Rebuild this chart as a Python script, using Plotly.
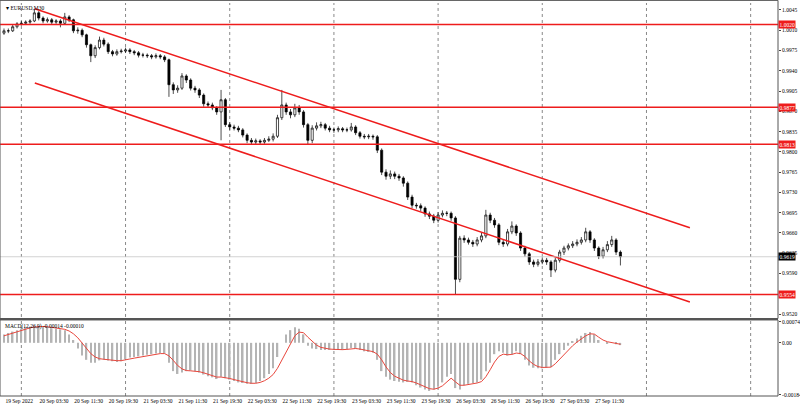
import plotly.graph_objects as go

# EURUSD M30 chart, one candle per hour
close = [
    1.0009, 1.0009, 1.0016, 1.0021, 1.0022, 1.0024, 1.0026, 1.0040, 1.0031, 1.0026,
    1.0028, 1.0024, 1.0026, 1.0022, 1.0033, 1.0028, 1.0009, 1.0010, 1.0002, 0.9985,
    0.9966, 0.9980, 0.9993, 0.9986, 0.9973, 0.9969, 0.9973, 0.9974, 0.9976, 0.9973,
    0.9971, 0.9967, 0.9967, 0.9966, 0.9964, 0.9966, 0.9964, 0.9959, 0.9916, 0.9907,
    0.9910, 0.9931, 0.9924, 0.9910, 0.9907, 0.9898, 0.9883, 0.9881, 0.9876, 0.9869,
    0.9890, 0.9847, 0.9843, 0.9841, 0.9838, 0.9829, 0.9820, 0.9817, 0.9819, 0.9817,
    0.9820, 0.9822, 0.9827, 0.9859, 0.9881, 0.9869, 0.9864, 0.9876, 0.9869, 0.9847,
    0.9820, 0.9841, 0.9845, 0.9847, 0.9841, 0.9838, 0.9838, 0.9840, 0.9838, 0.9838,
    0.9843, 0.9833, 0.9827, 0.9826, 0.9827, 0.9826, 0.9803, 0.9765, 0.9758, 0.9762,
    0.9758, 0.9755, 0.9746, 0.9722, 0.9708, 0.9707, 0.9703, 0.9693, 0.9689, 0.9682,
    0.9691, 0.9694, 0.9694, 0.9686, 0.9580, 0.9651, 0.9648, 0.9644, 0.9641, 0.9648,
    0.9655, 0.9691, 0.9682, 0.9674, 0.9644, 0.9641, 0.9662, 0.9672, 0.9660, 0.9634,
    0.9624, 0.9610, 0.9606, 0.9610, 0.9613, 0.9610, 0.9596, 0.9613, 0.9627, 0.9634,
    0.9638, 0.9641, 0.9644, 0.9648, 0.9662, 0.9648, 0.9634, 0.9620, 0.9631, 0.9640,
    0.9648, 0.9627, 0.9619,
]
high = [
    1.0013, 1.0013, 1.0019, 1.0024, 1.0026, 1.0027, 1.0029, 1.0047, 1.0043, 1.0034,
    1.0032, 1.0031, 1.0029, 1.0029, 1.0040, 1.0036, 1.0030, 1.0015, 1.0013, 1.0004,
    0.9987, 0.9984, 0.9999, 0.9997, 0.9989, 0.9976, 0.9977, 0.9978, 0.9980, 0.9979,
    0.9976, 0.9974, 0.9971, 0.9970, 0.9969, 0.9970, 0.9969, 0.9967, 0.9961, 0.9920,
    0.9915, 0.9936, 0.9934, 0.9927, 0.9914, 0.9910, 0.9901, 0.9887, 0.9885, 0.9879,
    0.9907, 0.9893, 0.9851, 0.9847, 0.9845, 0.9841, 0.9832, 0.9824, 0.9823, 0.9822,
    0.9824, 0.9827, 0.9832, 0.9864, 0.9907, 0.9885, 0.9874, 0.9883, 0.9881, 0.9872,
    0.9850, 0.9846, 0.9851, 0.9852, 0.9850, 0.9845, 0.9842, 0.9844, 0.9843, 0.9842,
    0.9850, 0.9846, 0.9836, 0.9831, 0.9831, 0.9830, 0.9829, 0.9806, 0.9770, 0.9768,
    0.9766, 0.9762, 0.9758, 0.9749, 0.9726, 0.9712, 0.9711, 0.9706, 0.9697, 0.9693,
    0.9696, 0.9699, 0.9698, 0.9697, 0.9689, 0.9655, 0.9656, 0.9652, 0.9648, 0.9653,
    0.9660, 0.9700, 0.9695, 0.9686, 0.9677, 0.9648, 0.9667, 0.9680, 0.9675, 0.9663,
    0.9638, 0.9627, 0.9614, 0.9615, 0.9618, 0.9617, 0.9613, 0.9617, 0.9631, 0.9638,
    0.9642, 0.9646, 0.9649, 0.9653, 0.9669, 0.9665, 0.9651, 0.9637, 0.9636, 0.9646,
    0.9655, 0.9651, 0.9630,
]
low = [
    1.0002, 1.0005, 1.0007, 1.0013, 1.0018, 1.0019, 1.0021, 1.0024, 1.0027, 1.0022,
    1.0023, 1.0020, 1.0021, 1.0015, 1.0020, 1.0024, 1.0005, 1.0004, 0.9998, 0.9980,
    0.9955, 0.9962, 0.9977, 0.9982, 0.9969, 0.9965, 0.9966, 0.9970, 0.9971, 0.9969,
    0.9967, 0.9963, 0.9963, 0.9962, 0.9960, 0.9961, 0.9960, 0.9955, 0.9895, 0.9900,
    0.9902, 0.9907, 0.9919, 0.9906, 0.9902, 0.9893, 0.9878, 0.9876, 0.9872, 0.9864,
    0.9820, 0.9843, 0.9838, 0.9837, 0.9834, 0.9825, 0.9815, 0.9813, 0.9813, 0.9813,
    0.9814, 0.9817, 0.9818, 0.9824, 0.9855, 0.9864, 0.9858, 0.9860, 0.9864, 0.9842,
    0.9812, 0.9815, 0.9837, 0.9841, 0.9837, 0.9834, 0.9833, 0.9834, 0.9834, 0.9834,
    0.9835, 0.9829, 0.9823, 0.9822, 0.9822, 0.9821, 0.9798, 0.9760, 0.9752, 0.9753,
    0.9753, 0.9750, 0.9740, 0.9717, 0.9703, 0.9702, 0.9698, 0.9688, 0.9684, 0.9677,
    0.9678, 0.9687, 0.9689, 0.9681, 0.9554, 0.9575, 0.9643, 0.9640, 0.9636, 0.9637,
    0.9644, 0.9651, 0.9677, 0.9669, 0.9639, 0.9636, 0.9637, 0.9658, 0.9655, 0.9629,
    0.9619, 0.9605, 0.9601, 0.9602, 0.9606, 0.9605, 0.9584, 0.9592, 0.9609, 0.9622,
    0.9630, 0.9634, 0.9637, 0.9640, 0.9644, 0.9643, 0.9629, 0.9615, 0.9616, 0.9627,
    0.9636, 0.9622, 0.9604,
]
first_open = 1.0005

# MACD main (histogram) and signal, in units of 0.00001
macd_main = [
    30, 35, 40, 45, 50, 55, 58, 60, 60, 58, 55, 52, 50, 48, 45, 30, 10, -20, -45, -60,
    -70, -70, -62, -60, -62, -65, -68, -65, -58, -52, -50, -48, -45, -42, -40, -38, -36, -38, -70, -100,
    -110, -105, -100, -98, -100, -105, -112, -118, -122, -128, -120, -125, -130, -135, -140, -142, -145, -145, -142, -135,
    -125, -110, -90, -50, 0, 30, 45, 55, 50, 30, -10, -20, -22, -25, -25, -25, -25, -25, -25, -22,
    -18, -20, -25, -30, -32, -35, -60, -100, -120, -130, -135, -138, -140, -138, -140, -150, -158, -165, -170, -165,
    -155, -140, -120, -110, -160, -165, -150, -145, -142, -140, -130, -100, -70, -40, -30, -35, -45, -40, -30, -40,
    -60, -80, -88, -90, -90, -88, -85, -60, -40, -25, -10, 5, 15, 25, 35, 38, 30, 10, 0, -2,
    0, -5, -8,
]
macd_signal = [
    25, 30, 35, 40, 45, 50, 53, 56, 58, 58, 57, 55, 53, 51, 48, 42, 32, 18, 0, -20,
    -38, -50, -56, -58, -60, -62, -63, -63, -61, -57, -54, -51, -48, -45, -42, -40, -38, -38, -46, -62,
    -80, -92, -98, -99, -100, -102, -106, -111, -116, -121, -121, -123, -126, -130, -134, -138, -141, -143, -143, -140,
    -134, -125, -112, -90, -60, -30, 0, 25, 38, 36, 20, 5, -8, -16, -20, -22, -23, -24, -24, -23,
    -21, -20, -22, -25, -28, -31, -40, -60, -85, -105, -118, -126, -132, -135, -137, -142, -148, -155, -162, -164,
    -160, -152, -138, -125, -138, -150, -150, -148, -145, -142, -137, -120, -95, -68, -48, -40, -42, -41, -36, -38,
    -48, -64, -76, -84, -87, -87, -86, -74, -57, -40, -25, -10, 3, 14, 25, 32, 31, 20, 10, 4,
    2, -2, -5,
]

time_labels = [
    "19 Sep 2022", "20 Sep 03:30", "20 Sep 11:30", "20 Sep 19:30", "21 Sep 03:30",
    "21 Sep 11:30", "21 Sep 19:30", "22 Sep 03:30", "22 Sep 11:30", "22 Sep 19:30",
    "23 Sep 03:30", "23 Sep 11:30", "23 Sep 19:30", "26 Sep 03:30", "26 Sep 11:30",
    "26 Sep 19:30", "27 Sep 03:30", "27 Sep 11:30",
]
bars_per_label = 8

levels = [1.0020, 0.9877, 0.9813, 0.9554]
level_text = ["1.0020", "0.9877", "0.9813", "0.9554"]
last_price = 0.9619

# channel lines: (bar index, price) endpoints
upper_channel = [(7.1, 1.0047), (158, 0.9669)]
lower_channel = [(7.1, 0.9919), (158, 0.9541)]

price_ticks = [1.0045, 1.0010, 0.9975, 0.9940, 0.9905, 0.9870, 0.9835, 0.9800,
               0.9765, 0.9730, 0.9695, 0.9660, 0.9625, 0.9590, 0.9520]
macd_ticks = [0.00074, 0.0, -0.00184]
macd_tick_text = ["0.00074", "0.00", "-0.00184"]

idx = list(range(len(close)))
opens = [first_open] + close[:-1]
main = [v * 1e-5 for v in macd_main]
signal = [v * 1e-5 for v in macd_signal]

fig = go.Figure()
fig.add_trace(go.Candlestick(
    x=idx, open=opens, high=high, low=low, close=close,
    increasing=dict(line=dict(color="#000000", width=0.7), fillcolor="#ffffff"),
    decreasing=dict(line=dict(color="#000000", width=0.7), fillcolor="#000000"),
    whiskerwidth=0, xaxis="x", yaxis="y", hoverinfo="skip",
))
fig.add_trace(go.Bar(x=idx, y=main, marker=dict(color="#b4b4b4", line=dict(width=0)),
                     width=0.35, xaxis="x2", yaxis="y2"))
fig.add_trace(go.Scatter(x=idx, y=signal, mode="lines", line=dict(color="#e8463c", width=1),
                         xaxis="x2", yaxis="y2"))

for (x0, y0), (x1, y1) in [upper_channel, lower_channel]:
    fig.add_trace(go.Scatter(x=[x0, x1], y=[y0, y1], mode="lines",
                             line=dict(color="#ee1c1c", width=1.5), xaxis="x", yaxis="y"))

xr = [-0.92, 178.3]
font = dict(family="Liberation Serif", size=5.5, color="#000000")
white = dict(family="Liberation Serif", size=5.5, color="#ffffff")

for lv, txt in zip(levels, level_text):
    fig.add_shape(type="line", xref="paper", x0=0, x1=1, yref="y", y0=lv, y1=lv,
                  line=dict(color="#ee1c1c", width=1.5))
    fig.add_annotation(xref="paper", x=1.0, yref="y", y=lv, text=txt, showarrow=False,
                       xanchor="left", bgcolor="#ee1c1c", font=white, borderpad=0.5)
fig.add_shape(type="line", xref="paper", x0=0, x1=1, yref="y", y0=last_price, y1=last_price,
              line=dict(color="#c8c8c8", width=0.8))
fig.add_annotation(xref="paper", x=1.0, yref="y", y=last_price, text=f"{last_price:.4f}",
                   showarrow=False, xanchor="left", bgcolor="#000000", font=white, borderpad=0.5)

# dashed vertical grid every 24 bars
for g in range(4, 180, 24):
    for ax in ["x", "x2"]:
        fig.add_shape(type="line", xref=ax, x0=g, x1=g, yref="y domain" if ax == "x" else "y2 domain",
                      y0=0, y1=1, line=dict(color="#555555", width=0.7, dash="dot"), layer="below")

# panel frames and separator
fig.add_shape(type="rect", xref="paper", yref="paper", x0=0, x1=1, y0=0.1957, y1=0.999,
              line=dict(color="#555555", width=1))
fig.add_shape(type="rect", xref="paper", yref="paper", x0=0, x1=1, y0=0, y1=0.192,
              line=dict(color="#555555", width=1))
fig.add_shape(type="line", xref="paper", yref="paper", x0=0, x1=1, y0=0.1945, y1=0.1945,
              line=dict(color="#555555", width=2))

fig.add_annotation(xref="paper", yref="paper", x=0.005, y=0.992, text="▾ EURUSD,M30",
                   showarrow=False, xanchor="left", yanchor="top", font=font)
fig.add_annotation(xref="paper", yref="paper", x=0.004, y=0.19,
                   text="MACD(12,26,9) -0.00014 -0.00010", showarrow=False,
                   xanchor="left", yanchor="top", font=font)

fig.update_layout(
    width=800, height=408,
    margin=dict(l=0, r=22, t=0, b=12, autoexpand=False),
    paper_bgcolor="#ffffff", plot_bgcolor="#ffffff",
    showlegend=False,
    font=font,
    xaxis=dict(domain=[0, 1], range=xr, showticklabels=False, showgrid=False,
               zeroline=False, rangeslider=dict(visible=False), anchor="y", automargin=False),
    yaxis=dict(domain=[0.1995, 0.9924], range=[0.9515, 1.0057], side="right",
               tickvals=price_ticks, tickformat=".4f", showgrid=False, zeroline=False,
               ticks="outside", ticklen=2, tickfont=font, anchor="x", automargin=False),
    xaxis2=dict(domain=[0, 1], range=xr, showgrid=False, zeroline=False,
                tickvals=[i * bars_per_label + 3.5 for i in range(len(time_labels))],
                ticktext=time_labels, tickangle=0, tickfont=font, ticks="",
                anchor="y2", automargin=False),
    yaxis2=dict(domain=[0, 0.192], range=[-0.00188, 0.00081], side="right",
                tickvals=macd_ticks, ticktext=macd_tick_text, showgrid=False,
                zeroline=False, ticks="outside", ticklen=2, tickfont=font, anchor="x2",
                automargin=False),
)

fig.write_html("out.html", config={"displayModeBar": False},
               post_script="document.body.style.margin='0';document.body.style.overflow='hidden';")
